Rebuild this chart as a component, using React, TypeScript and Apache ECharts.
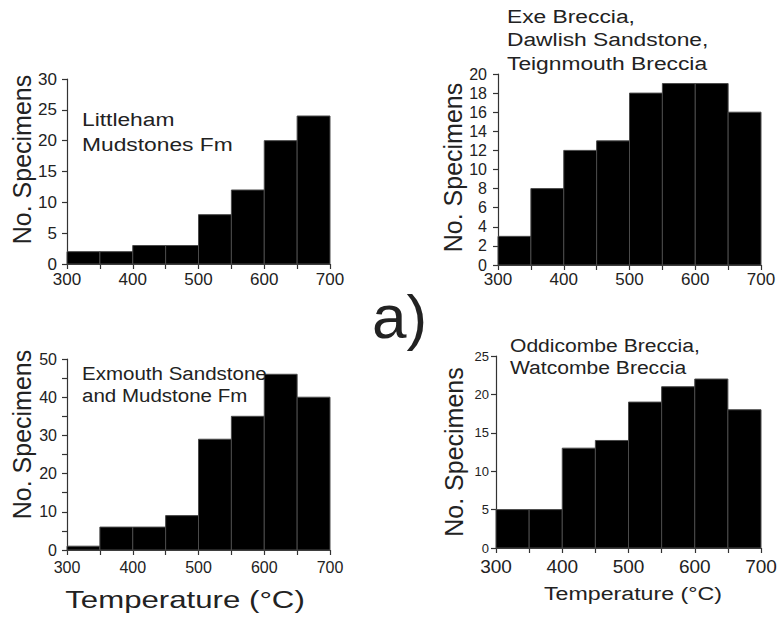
import React, { useEffect, useRef } from "react";
import * as echarts from "echarts";

const binStarts = [300, 350, 400, 450, 500, 550, 600, 650];
const binWidth = 50;
const littleham = [2, 2, 3, 3, 8, 12, 20, 24];
const exeBreccia = [3, 8, 12, 13, 18, 19, 19, 16];
const exmouth = [1, 6, 6, 9, 29, 35, 46, 40];
const oddicombe = [5, 5, 13, 14, 19, 21, 22, 18];

const yTitle = "No. Specimens";
const xTitle = "Temperature (°C)";
const labelLittleham = "Littleham\nMudstones Fm";
const labelExe = "Exe Breccia,\nDawlish Sandstone,\nTeignmouth Breccia";
const labelExmouth = "Exmouth Sandstone\nand Mudstone Fm";
const labelOddicombe = "Oddicombe Breccia,\nWatcombe Breccia";
const panelTag = "a)";

const FONT = "'Liberation Sans', Arial, Helvetica, sans-serif";
const TXT = "#222";
const AX = "#333";

function App() {
  const ref = useRef<HTMLDivElement>(null);

  useEffect(() => {
    if (!ref.current) return;
    const chart = echarts.init(ref.current, null, { renderer: "svg" });

    const grids = [
      { left: 67, top: 79, width: 263, height: 185 },
      { left: 498, top: 74, width: 263, height: 191 },
      { left: 67, top: 359, width: 263, height: 191 },
      { left: 496, top: 356, width: 265, height: 192 },
    ];

    const xCfg = [
      { font: 17, margin: 7 },
      { font: 17, margin: 6 },
      { font: 16, margin: 9 },
      { font: 19, margin: 9 },
    ];

    const yCfg = [
      { max: 30, interval: 5, every: 5, font: 17, margin: 10, gap: 33, pad: [0, 0, 0, 24] },
      { max: 20, interval: 2, every: 2, font: 16, margin: 11, gap: 33, pad: [0, 0, 0, 4] },
      { max: 50, interval: 5, every: 10, font: 16, margin: 10, gap: 33, pad: [0, 0, 0, 40] },
      { max: 25, interval: 5, every: 5, font: 13, margin: 7, gap: 30, pad: [0, 0, 0, 0] },
    ];

    const seriesData = [littleham, exeBreccia, exmouth, oddicombe];

    const note = (text: string, x: number, y: number, lh: number, size: number, sx: number) => ({
      type: "text",
      x,
      y,
      scaleX: sx,
      style: {
        text,
        font: `${size}px ${FONT}`,
        fill: TXT,
        lineHeight: lh,
        align: "left",
        verticalAlign: "top",
      },
      z: 10,
    });

    const option: any = {
      animation: false,
      backgroundColor: "#fff",
      textStyle: { fontFamily: FONT, color: TXT },
      grid: grids.map((g) => ({ ...g, containLabel: false })),
      xAxis: xCfg.map((c, i) => ({
        type: "value",
        gridIndex: i,
        min: 300,
        max: 700,
        interval: 50,
        axisLine: { show: true, lineStyle: { color: AX, width: 1.2 } },
        axisTick: { show: true, inside: false, length: 5, lineStyle: { color: AX, width: 1.2 } },
        splitLine: { show: false },
        axisLabel: {
          fontSize: c.font,
          fontFamily: FONT,
          color: TXT,
          margin: c.margin,
          showMinLabel: true,
          showMaxLabel: true,
          formatter: (v: number) => (v % 100 === 0 ? String(v) : ""),
        },
      })),
      yAxis: yCfg.map((c, i) => ({
        type: "value",
        gridIndex: i,
        min: 0,
        max: c.max,
        interval: c.interval,
        name: yTitle,
        nameLocation: "middle",
        nameGap: c.gap,
        nameTextStyle: {
          fontSize: 25,
          fontFamily: FONT,
          color: TXT,
          padding: c.pad,
        },
        axisLine: { show: true, lineStyle: { color: AX, width: 1.2 } },
        axisTick: { show: true, inside: false, length: 5, lineStyle: { color: AX, width: 1.2 } },
        splitLine: { show: false },
        axisLabel: {
          fontSize: c.font,
          fontFamily: FONT,
          color: TXT,
          margin: c.margin,
          formatter: (v: number) => (v % c.every === 0 ? String(v) : ""),
        },
      })),
      series: seriesData.map((vals, i) => ({
        type: "custom",
        xAxisIndex: i,
        yAxisIndex: i,
        encode: { x: [0, 1], y: 2 },
        data: binStarts.map((s, k) => [s, s + binWidth, vals[k]]),
        renderItem: (params: any, api: any) => {
          const x0 = api.value(0);
          const x1 = api.value(1);
          const v = api.value(2);
          const p0 = api.coord([x0, 0]);
          const p1 = api.coord([x1, v]);
          return {
            type: "rect",
            shape: {
              x: p0[0],
              y: p1[1],
              width: p1[0] - p0[0],
              height: p0[1] - p1[1],
            },
            style: { fill: "#000", stroke: "#4a4a4a", lineWidth: 1 },
          };
        },
        z: 1,
      })),
      graphic: [
        note(labelLittleham, 82, 107, 24.5, 19, 1.2),
        note(labelExe, 507, 4, 23.5, 19, 1.2),
        note(labelExmouth, 82, 362, 22, 19, 1.08),
        note(labelOddicombe, 510, 334, 22, 19, 1.11),
        {
          type: "text",
          x: 185,
          y: 588,
          scaleX: 1.3,
          style: {
            text: xTitle,
            font: `24px ${FONT}`,
            fill: TXT,
            align: "center",
            verticalAlign: "top",
          },
          z: 10,
        },
        {
          type: "text",
          x: 633,
          y: 584,
          scaleX: 1.22,
          style: {
            text: xTitle,
            font: `19px ${FONT}`,
            fill: TXT,
            align: "center",
            verticalAlign: "top",
          },
          z: 10,
        },
        {
          type: "text",
          x: 372,
          y: 285,
          style: {
            text: panelTag,
            font: `62px ${FONT}`,
            fill: TXT,
            align: "left",
            verticalAlign: "top",
          },
          z: 10,
        },
      ],
    };

    chart.setOption(option);
    return () => chart.dispose();
  }, []);

  return (
    <div
      ref={ref}
      style={{ position: "absolute", left: 0, top: 0, width: 780, height: 618 }}
    />
  );
}

export default App;
